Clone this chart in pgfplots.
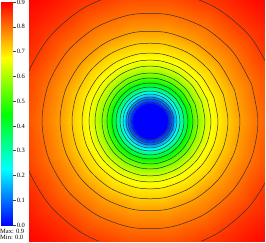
\documentclass[border=0pt]{standalone}
\usepackage{pgfplots}
\pgfplotsset{compat=1.18}
\usepackage{pgfplotstable}
\usepackage{fontspec}
\setmainfont{Liberation Serif}
\pgfplotsset{colormap={visit}{rgb255(0)=(0,0,255) rgb255(1)=(0,255,255) rgb255(2)=(0,255,0) rgb255(3)=(255,255,0) rgb255(4)=(255,0,0)}}
\pgfplotstableread{
x y c
0 0 0
1 0 0
0 0.225 0.225
1 0.225 0.225
0 0.45 0.45
1 0.45 0.45
0 0.675 0.675
1 0.675 0.675
0 0.9 0.9
1 0.9 0.9
}\bartab
\pgfplotstableread{
t r v
0 0 0
20 0 0
40 0 0
60 0 0
80 0 0
100 0 0
120 0 0
140 0 0
160 0 0
180 0 0
200 0 0
220 0 0
240 0 0
260 0 0
280 0 0
300 0 0
320 0 0
340 0 0
360 0 0
380 0 0
0 17 0
20 17 0
40 17 0
60 17 0
80 17 0
100 17 0
120 17 0
140 17 0
160 17 0
180 17 0
200 17 0
220 17 0
240 17 0
260 17 0
280 17 0
300 17 0
320 17 0
340 17 0
360 17 0
380 17 0
0 19 0.04
20 19 0.04
40 19 0.04
60 19 0.04
80 19 0.04
100 19 0.04
120 19 0.04
140 19 0.04
160 19 0.04
180 19 0.04
200 19 0.04
220 19 0.04
240 19 0.04
260 19 0.04
280 19 0.04
300 19 0.04
320 19 0.04
340 19 0.04
360 19 0.04
380 19 0.04
0 22 0.09
20 22 0.09
40 22 0.09
60 22 0.09
80 22 0.09
100 22 0.09
120 22 0.09
140 22 0.09
160 22 0.09
180 22 0.09
200 22 0.09
220 22 0.09
240 22 0.09
260 22 0.09
280 22 0.09
300 22 0.09
320 22 0.09
340 22 0.09
360 22 0.09
380 22 0.09
0 24 0.14
20 24 0.14
40 24 0.14
60 24 0.14
80 24 0.14
100 24 0.14
120 24 0.14
140 24 0.14
160 24 0.14
180 24 0.14
200 24 0.14
220 24 0.14
240 24 0.14
260 24 0.14
280 24 0.14
300 24 0.14
320 24 0.14
340 24 0.14
360 24 0.14
380 24 0.14
0 27 0.21
20 27 0.21
40 27 0.21
60 27 0.21
80 27 0.21
100 27 0.21
120 27 0.21
140 27 0.21
160 27 0.21
180 27 0.21
200 27 0.21
220 27 0.21
240 27 0.21
260 27 0.21
280 27 0.21
300 27 0.21
320 27 0.21
340 27 0.21
360 27 0.21
380 27 0.21
0 30 0.28
20 30 0.28
40 30 0.28
60 30 0.28
80 30 0.28
100 30 0.28
120 30 0.28
140 30 0.28
160 30 0.28
180 30 0.28
200 30 0.28
220 30 0.28
240 30 0.28
260 30 0.28
280 30 0.28
300 30 0.28
320 30 0.28
340 30 0.28
360 30 0.28
380 30 0.28
0 34 0.36
20 34 0.36
40 34 0.36
60 34 0.36
80 34 0.36
100 34 0.36
120 34 0.36
140 34 0.36
160 34 0.36
180 34 0.36
200 34 0.36
220 34 0.36
240 34 0.36
260 34 0.36
280 34 0.36
300 34 0.36
320 34 0.36
340 34 0.36
360 34 0.36
380 34 0.36
0 38 0.43
20 38 0.43
40 38 0.43
60 38 0.43
80 38 0.43
100 38 0.43
120 38 0.43
140 38 0.43
160 38 0.43
180 38 0.43
200 38 0.43
220 38 0.43
240 38 0.43
260 38 0.43
280 38 0.43
300 38 0.43
320 38 0.43
340 38 0.43
360 38 0.43
380 38 0.43
0 43 0.51
20 43 0.51
40 43 0.51
60 43 0.51
80 43 0.51
100 43 0.51
120 43 0.51
140 43 0.51
160 43 0.51
180 43 0.51
200 43 0.51
220 43 0.51
240 43 0.51
260 43 0.51
280 43 0.51
300 43 0.51
320 43 0.51
340 43 0.51
360 43 0.51
380 43 0.51
0 48 0.57
20 48 0.57
40 48 0.57
60 48 0.57
80 48 0.57
100 48 0.57
120 48 0.57
140 48 0.57
160 48 0.57
180 48 0.57
200 48 0.57
220 48 0.57
240 48 0.57
260 48 0.57
280 48 0.57
300 48 0.57
320 48 0.57
340 48 0.57
360 48 0.57
380 48 0.57
0 55 0.63
20 55 0.63
40 55 0.63
60 55 0.63
80 55 0.63
100 55 0.63
120 55 0.63
140 55 0.63
160 55 0.63
180 55 0.63
200 55 0.63
220 55 0.63
240 55 0.63
260 55 0.63
280 55 0.63
300 55 0.63
320 55 0.63
340 55 0.63
360 55 0.63
380 55 0.63
0 61 0.665
20 61 0.665
40 61 0.665
60 61 0.665
80 61 0.665
100 61 0.665
120 61 0.665
140 61 0.665
160 61 0.665
180 61 0.665
200 61 0.665
220 61 0.665
240 61 0.665
260 61 0.665
280 61 0.665
300 61 0.665
320 61 0.665
340 61 0.665
360 61 0.665
380 61 0.665
0 68 0.69
20 68 0.69
40 68 0.69
60 68 0.69
80 68 0.69
100 68 0.69
120 68 0.69
140 68 0.69
160 68 0.69
180 68 0.69
200 68 0.69
220 68 0.69
240 68 0.69
260 68 0.69
280 68 0.69
300 68 0.69
320 68 0.69
340 68 0.69
360 68 0.69
380 68 0.69
0 78 0.72
20 78 0.72
40 78 0.72
60 78 0.72
80 78 0.72
100 78 0.72
120 78 0.72
140 78 0.72
160 78 0.72
180 78 0.72
200 78 0.72
220 78 0.72
240 78 0.72
260 78 0.72
280 78 0.72
300 78 0.72
320 78 0.72
340 78 0.72
360 78 0.72
380 78 0.72
0 90 0.76
20 90 0.76
40 90 0.76
60 90 0.76
80 90 0.76
100 90 0.76
120 90 0.76
140 90 0.76
160 90 0.76
180 90 0.76
200 90 0.76
220 90 0.76
240 90 0.76
260 90 0.76
280 90 0.76
300 90 0.76
320 90 0.76
340 90 0.76
360 90 0.76
380 90 0.76
0 108 0.80
20 108 0.80
40 108 0.80
60 108 0.80
80 108 0.80
100 108 0.80
120 108 0.80
140 108 0.80
160 108 0.80
180 108 0.80
200 108 0.80
220 108 0.80
240 108 0.80
260 108 0.80
280 108 0.80
300 108 0.80
320 108 0.80
340 108 0.80
360 108 0.80
380 108 0.80
0 131 0.845
20 131 0.845
40 131 0.845
60 131 0.845
80 131 0.845
100 131 0.845
120 131 0.845
140 131 0.845
160 131 0.845
180 131 0.845
200 131 0.845
220 131 0.845
240 131 0.845
260 131 0.845
280 131 0.845
300 131 0.845
320 131 0.845
340 131 0.845
360 131 0.845
380 131 0.845
0 155 0.88
20 155 0.88
40 155 0.88
60 155 0.88
80 155 0.88
100 155 0.88
120 155 0.88
140 155 0.88
160 155 0.88
180 155 0.88
200 155 0.88
220 155 0.88
240 155 0.88
260 155 0.88
280 155 0.88
300 155 0.88
320 155 0.88
340 155 0.88
360 155 0.88
380 155 0.88
0 175 0.90
20 175 0.90
40 175 0.90
60 175 0.90
80 175 0.90
100 175 0.90
120 175 0.90
140 175 0.90
160 175 0.90
180 175 0.90
200 175 0.90
220 175 0.90
240 175 0.90
260 175 0.90
280 175 0.90
300 175 0.90
320 175 0.90
340 175 0.90
360 175 0.90
380 175 0.90
}\meshtab
\begin{document}
\begin{tikzpicture}
\path[use as bounding box] (0pt,0pt) rectangle (266pt,242pt);
\begin{axis}[
  at={(29pt,1pt)}, anchor=south west,
  width=236pt, height=241pt, scale only axis,
  view={0}{90}, hide axis,
  xmin=-121, xmax=115, ymin=-120, ymax=121,
  colormap name=visit,
  point meta min=0, point meta max=0.9,
]
\addplot3[surf, shader=interp, data cs=polar, mesh/rows=20, mesh/cols=20]
  table[x=t, y=r, z=v] {\meshtab};
\addplot[black!80, line width=0.5pt, smooth, data cs=polar, unbounded coords=jump,
  restrict expr to domain={(\thisrow{t}>1)*(\thisrow{r}>18)*(\thisrow{r}<140)}{0.5:1.5}]
  table[x=t, y=r] {\meshtab};
\end{axis}
\begin{axis}[
  at={(1pt,17pt)}, anchor=south west,
  width=12pt, height=223pt, scale only axis,
  xmin=0, xmax=1, ymin=0, ymax=0.9,
  colormap name=visit,
  point meta min=0, point meta max=0.9,
  axis line style={draw=none},
  xtick=\empty,
  ytick={0,0.1,0.2,0.3,0.4,0.5,0.6,0.7,0.8,0.9},
  yticklabels={0.0,0.1,0.2,0.3,0.4,0.5,0.6,0.7,0.8,0.9},
  ytick pos=right, yticklabel pos=right,
  tick align=outside, major tick length=3pt,
  tick style={black!75, line width=0.5pt},
  yticklabel style={font=\fontsize{6.5}{7}\selectfont, inner sep=0.6pt},
]
\addplot[surf, shader=interp, mesh/cols=2, point meta=explicit]
  table[x=x, y=y, meta=c] {\bartab};
\end{axis}
\node[anchor=west, inner sep=0pt, font=\fontsize{6.5}{7}\selectfont] at (0pt,10.5pt) {Max: 0.9};
\node[anchor=west, inner sep=0pt, font=\fontsize{6.5}{7}\selectfont] at (0pt,4.5pt) {Min: 0.0};
\end{tikzpicture}
\end{document}
